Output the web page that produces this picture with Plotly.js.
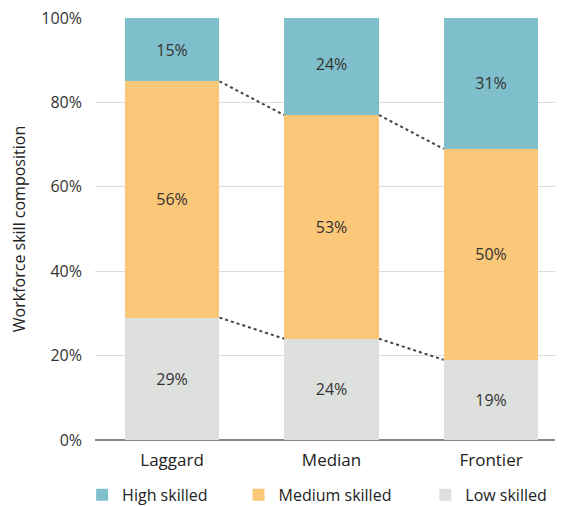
<!DOCTYPE html>
<html>
<head>
<meta charset="utf-8">
<script src="https://cdn.plot.ly/plotly-3.0.1.min.js"></script>
<style>html,body{margin:0;padding:0;background:#fff;}#chart{width:564px;height:506px;}</style>
</head>
<body>
<div id="chart"></div>
<script>
const categories = ["Laggard", "Median", "Frontier"];
const lowSkilled = [29, 24, 19];
const mediumSkilled = [56, 53, 50];
const highSkilled = [15, 24, 31];
const seriesNames = ["Low skilled", "Medium skilled", "High skilled"];
const yTickVals = [0, 20, 40, 60, 80, 100];
const yTickText = ["0%", "20%", "40%", "60%", "80%", "100%"];

const colors = {low: "#dde0dd", medium: "#fbc778", high: "#7fbfcb"};
const barWidth = 0.595;
const FONT = "Open Sans, sans-serif";
const textFont = {family: FONT, size: 16, color: "#333"};

function barTrace(name, vals, color, legendId) {
  return {
    type: "bar", name: name, x: [0, 1, 2], y: vals,
    width: barWidth,
    marker: {color: color, line: {width: 0}},
    text: vals.map(v => v + "%"),
    textposition: "inside", insidetextanchor: "middle",
    textfont: textFont, hoverinfo: "skip",
    constraintext: "none", legend: legendId
  };
}

const traces = [
  barTrace(seriesNames[0], lowSkilled, colors.low, "legend3"),
  barTrace(seriesNames[1], mediumSkilled, colors.medium, "legend2"),
  barTrace(seriesNames[2], highSkilled, colors.high, "legend")
];

// dotted connectors between bars, derived from cumulative stack values
const lowTop = lowSkilled;
const midTop = lowSkilled.map((v, i) => v + mediumSkilled[i]);
const shapes = [];
[lowTop, midTop].forEach(arr => {
  for (let i = 0; i < arr.length - 1; i++) {
    shapes.push({
      type: "line", xref: "x", yref: "y",
      x0: i + barWidth / 2, y0: arr[i],
      x1: i + 1 - barWidth / 2, y1: arr[i + 1],
      line: {color: "#444", width: 2, dash: "dot"}
    });
  }
});

function legendAt(xPaper) {
  return {
    orientation: "h", x: xPaper, xanchor: "left",
    yref: "container", y: 0.022, yanchor: "middle",
    font: {family: FONT, size: 16, color: "#222"},
    bgcolor: "rgba(0,0,0,0)"
  };
}

const layout = {
  width: 564, height: 506,
  margin: {l: 95, r: 9, t: 18, b: 66},
  barmode: "stack",
  paper_bgcolor: "#fff", plot_bgcolor: "#fff",
  font: {family: FONT, size: 15, color: "#333"},
  xaxis: {
    range: [-0.483, 2.401],
    tickvals: [0, 1, 2], ticktext: categories,
    showgrid: false, zeroline: false, showline: false,
    ticks: "", ticklabelstandoff: 8,
    tickfont: {size: 17, color: "#222"}, fixedrange: true
  },
  yaxis: {
    range: [0, 100], tickvals: yTickVals, ticktext: yTickText,
    showgrid: true, gridcolor: "#dcdcdc", gridwidth: 1,
    zeroline: true, zerolinecolor: "#888", zerolinewidth: 1.5,
    ticks: "", ticklabelstandoff: 12,
    tickfont: {size: 16, color: "#333"},
    title: {text: "Workforce skill composition", font: {size: 16, color: "#222"}, standoff: 11},
    fixedrange: true
  },
  legend: legendAt(-0.028),
  legend2: legendAt(0.312),
  legend3: legendAt(0.718),
  shapes: shapes,
  showlegend: true
};

Plotly.newPlot("chart", traces, layout, {displayModeBar: false, staticPlot: true});
</script>
</body>
</html>
